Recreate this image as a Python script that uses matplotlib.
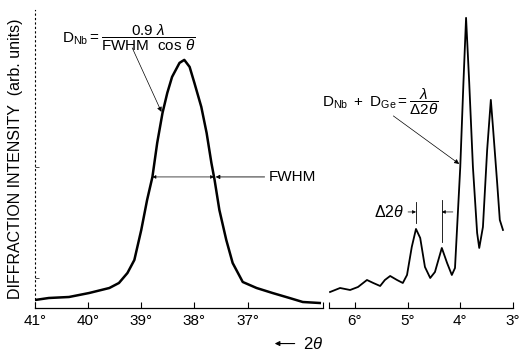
import matplotlib
matplotlib.use('Agg')
import matplotlib.pyplot as plt
import numpy as np

plt.rcParams['font.family'] = ['Liberation Sans', 'DejaVu Sans']
plt.rcParams['mathtext.fontset'] = 'custom'
plt.rcParams['mathtext.rm'] = 'Liberation Sans'
plt.rcParams['mathtext.it'] = 'Liberation Sans:italic'
plt.rcParams['mathtext.sf'] = 'Liberation Sans'

# Nb (110) Bragg peak, high angle scan
nb_2theta = [41.0, 40.74, 40.36, 39.98, 39.60, 39.42, 39.26, 39.13, 39.0, 38.89,
             38.79, 38.70, 38.60, 38.51, 38.42, 38.32, 38.28, 38.19, 38.09, 38.0,
             37.87, 37.77, 37.68, 37.62, 37.53, 37.40, 37.28, 37.09, 36.83, 36.53,
             36.21, 35.96, 35.64]
nb_int = [8, 10, 11, 15, 20, 25, 35, 48, 78, 108,
          131, 165, 195, 215, 231, 241, 245, 248, 241, 225,
          201, 175, 145, 128, 98, 68, 45, 26, 20, 15,
          10, 6, 5]

# low angle superlattice reflections
sl_2theta = [6.47, 6.28, 6.09, 5.94, 5.77, 5.65, 5.52, 5.43, 5.33, 5.20,
             5.09, 5.01, 4.92, 4.84, 4.76, 4.67, 4.57, 4.48, 4.35, 4.25,
             4.16, 4.10, 4.0, 3.94, 3.89, 3.83, 3.76, 3.68, 3.64, 3.57,
             3.49, 3.42, 3.38, 3.30, 3.25, 3.19]
sl_int = [16, 20, 18, 21, 28, 25, 22, 28, 32, 28,
          25, 33, 61, 79, 70, 41, 30, 36, 60, 45,
          33, 40, 141, 225, 290, 225, 141, 75, 60, 81,
          158, 208, 181, 125, 88, 78]

left_ticks = [41, 40, 39, 38, 37]
right_ticks = [6, 5, 4, 3]

fig = plt.figure(figsize=(5.2, 3.52), dpi=100)
ax1 = fig.add_axes([0.0673, 0.125, 0.5538, 0.847])
ax2 = fig.add_axes([0.6327, 0.125, 0.3538, 0.847])

ymax = 298
for ax in (ax1, ax2):
    ax.set_ylim(0, ymax)
    ax.spines['top'].set_visible(False)
    ax.spines['right'].set_visible(False)
    ax.spines['bottom'].set_linewidth(0.9)
    ax.tick_params(axis='x', direction='in', length=4, width=0.8, pad=4, labelsize=11)
    ax.tick_params(axis='x', which='minor', direction='in', length=4, width=0.8)
    ax.patch.set_alpha(0)

ax1.plot(nb_2theta, nb_int, color='black', linewidth=1.8)
ax1.set_xlim(41.0, 35.58)
ax1.set_xticks(left_ticks)
ax1.set_xticklabels([f'{t}°' for t in left_ticks])
ax1.set_xticks([35.58], minor=True)
ax1.spines['left'].set_linestyle((0, (1, 3)))
ax1.spines['left'].set_linewidth(0.8)
ax1.set_yticks([30, 141])
ax1.set_yticklabels([])
ax1.tick_params(axis='y', direction='in', length=3, width=0.5)
ax1.set_ylabel('DIFFRACTION INTENSITY  (arb. units)', fontsize=11.5, labelpad=5)

ax2.plot(sl_2theta, sl_int, color='black', linewidth=1.3)
ax2.set_xlim(6.49, 3.0)
ax2.set_xticks(right_ticks)
ax2.set_xticklabels([f'{t}°' for t in right_ticks])
ax2.set_xticks([6.49], minor=True)
ax2.spines['left'].set_visible(False)
ax2.set_yticks([])

thin_arrow = dict(arrowstyle='-|>', color='black', lw=0.5, mutation_scale=7,
                  shrinkA=0, shrinkB=0)

# FWHM marker on the Nb peak
ax1.annotate('', xy=(38.79, 131), xytext=(37.63, 131),
             arrowprops=dict(arrowstyle='<|-|>', color='black', lw=0.5,
                             mutation_scale=5, shrinkA=0, shrinkB=0))
ax1.annotate('FWHM', xy=(37.6, 131), xytext=(36.6, 131), fontsize=11,
             va='center', ha='left',
             arrowprops=dict(arrowstyle='-|>', color='black', lw=0.6,
                             mutation_scale=6, shrinkA=1, shrinkB=0))

# Scherrer formula
ax1.text(40.5, 270, r'$\mathsf{D_{Nb}} = \dfrac{\mathsf{0.9\ }\lambda}{\mathsf{FWHM\ \ cos}\ \theta}$',
         fontsize=11, ha='left', va='center')
ax1.annotate('', xy=(38.62, 196), xytext=(39.17, 260), arrowprops=thin_arrow)

# superlattice period
ax2.text(6.62, 206, r'$\mathsf{D_{Nb}\ +\ D_{Ge}} = \dfrac{\lambda}{\Delta \mathsf{2}\theta}$',
         fontsize=11, ha='left', va='center')
ax2.annotate('', xy=(4.02, 144), xytext=(5.27, 192), arrowprops=thin_arrow)

# delta 2theta between neighbouring peaks
ax2.plot([4.84, 4.84], [85, 106], color='black', lw=0.6)
ax2.plot([4.35, 4.35], [66, 108], color='black', lw=0.6)
ax2.annotate(r'$\Delta \mathsf{2}\theta$', xy=(4.84, 96), xytext=(5.07, 96), fontsize=11.5,
             ha='right', va='center',
             arrowprops=dict(arrowstyle='-|>', color='black', lw=0.5,
                             mutation_scale=5, shrinkA=1, shrinkB=0))
ax2.annotate('', xy=(4.35, 96), xytext=(4.14, 96),
             arrowprops=dict(arrowstyle='-|>', color='black', lw=0.5,
                             mutation_scale=5, shrinkA=0, shrinkB=0))

# direction of increasing angle
fig.text(0.583, 0.024, r'$\mathsf{2}\theta$', fontsize=12, ha='left', va='center')
fig.patches.append(matplotlib.patches.FancyArrowPatch(
    (0.572, 0.024), (0.523, 0.024), transform=fig.transFigure,
    arrowstyle='-|>', mutation_scale=7, lw=0.8, color='black'))

fig.savefig('out.png', dpi=100)
